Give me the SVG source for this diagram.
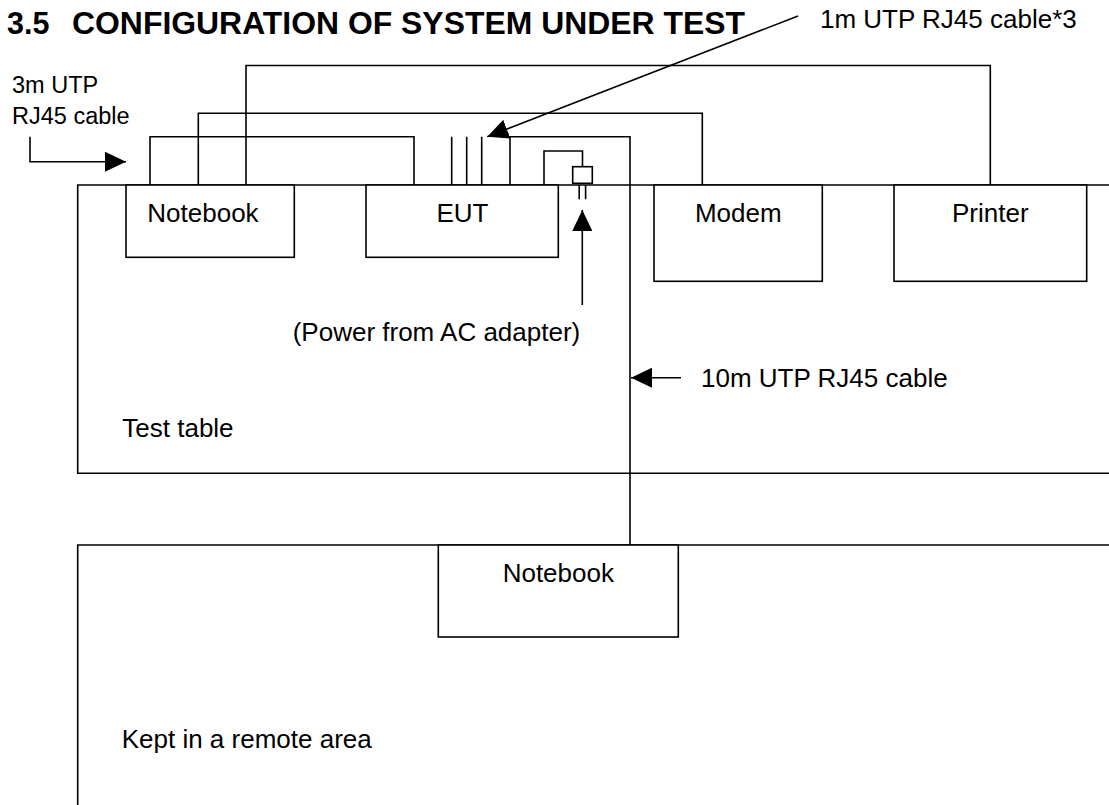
<svg xmlns="http://www.w3.org/2000/svg" width="1109" height="805" viewBox="0 0 1109 805">
<style>
  .ln { fill: none; stroke: #000; stroke-width: 1.6; }
  .box { fill: #fff; stroke: #000; stroke-width: 1.6; }
  .t { font-family: "Liberation Sans", Arial, sans-serif; font-size: 26px; fill: #000; }
  .s { font-family: "Liberation Sans", Arial, sans-serif; font-size: 23.5px; fill: #000; }
  .h { font-family: "Liberation Sans", Arial, sans-serif; font-size: 30.5px; font-weight: bold; fill: #000; }
  .c { text-anchor: middle; }
</style>
<defs>
  <marker id="ah" markerWidth="22" markerHeight="20" refX="21" refY="10" orient="auto" markerUnits="userSpaceOnUse">
    <path d="M0,0 L21,10 L0,20 z" fill="#000"/>
  </marker>
</defs>
<rect width="1109" height="805" fill="#fff"/>

<g id="title">
  <text class="h" x="7" y="34">3.5</text>
  <text class="h" x="72" y="34" textLength="673" lengthAdjust="spacingAndGlyphs">CONFIGURATION OF SYSTEM UNDER TEST</text>
</g>

<g id="test-table">
  <path class="ln" d="M1109,185 H77.7 V473.3 H1109"/>
  <text class="t" x="122.3" y="436.7">Test table</text>
</g>

<g id="remote-area">
  <path class="ln" d="M1109,545 H77.7 V805"/>
  <text class="t" x="121.7" y="748.3">Kept in a remote area</text>
</g>

<g id="connectors">
  <!-- Notebook to EUT (3m) -->
  <path class="ln" d="M150,185 V136.7 H414 V185"/>
  <!-- Notebook to Modem -->
  <path class="ln" d="M198.3,185 V113.3 H702.3 V185"/>
  <!-- Notebook to Printer -->
  <path class="ln" d="M246,185 V65.5 H990.3 V185"/>
  <!-- three 1m cables -->
  <path class="ln" d="M451.7,185 V136.7 M466.7,185 V136.7 M481.7,185 V136.7"/>
  <!-- EUT to remote notebook (10m) -->
  <path class="ln" d="M510,185 V136.7 H630 V545"/>
  <!-- power loop -->
  <path class="ln" d="M544,185 V151 H582.5 V166.7"/>
  <rect class="box" x="572.7" y="166.7" width="19.6" height="16.6"/>
  <path class="ln" d="M579.2,185 V199.3 M585.6,185 V199.3"/>
  <!-- 3m label arrow -->
  <path class="ln" d="M30,136.7 V161.7 H126" marker-end="url(#ah)"/>
  <!-- 1m label leader -->
  <path class="ln" d="M798,16 L487.3,136.7" marker-end="url(#ah)"/>
  <!-- power arrow -->
  <path class="ln" d="M582.3,305 V210" marker-end="url(#ah)"/>
  <!-- 10m arrow -->
  <path class="ln" d="M681,377.7 H631" marker-end="url(#ah)"/>
</g>

<g id="notebook">
  <rect class="box" x="126" y="185" width="168.3" height="72.3"/>
  <text class="t" x="147.3" y="222.3">Notebook</text>
</g>
<g id="eut">
  <rect class="box" x="366" y="185" width="192.3" height="72.3"/>
  <text class="t c" x="462.4" y="222.3">EUT</text>
</g>
<g id="modem">
  <rect class="box" x="654" y="185" width="168.3" height="96.3"/>
  <text class="t c" x="738.3" y="222.3">Modem</text>
</g>
<g id="printer">
  <rect class="box" x="894" y="185" width="192.7" height="96.3"/>
  <text class="t c" x="990.3" y="222.3">Printer</text>
</g>
<g id="remote-notebook">
  <rect class="box" x="438.3" y="545" width="240" height="92"/>
  <text class="t c" x="558.3" y="582.3">Notebook</text>
</g>

<g id="label-3m">
  <text class="s" x="12" y="93">3m UTP</text>
  <text class="s" x="12" y="124">RJ45 cable</text>
</g>
<g id="label-1m">
  <text class="t" x="820" y="28.3">1m UTP RJ45 cable*3</text>
</g>
<g id="label-power">
  <text class="t" x="292.7" y="341">(Power from AC adapter)</text>
</g>
<g id="label-10m">
  <text class="t" x="701" y="387">10m UTP RJ45 cable</text>
</g>
</svg>
